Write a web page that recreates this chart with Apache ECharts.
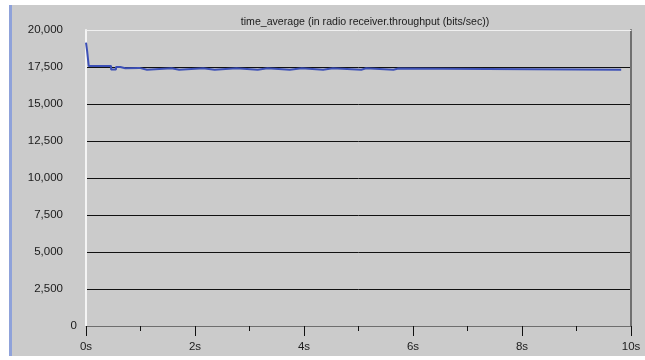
<!DOCTYPE html>
<html>
<head>
<meta charset="utf-8">
<script src="https://cdn.jsdelivr.net/npm/echarts@6/dist/echarts.min.js"></script>
<style>
  html, body { margin: 0; padding: 0; background: #ffffff; }
  #chart { width: 645px; height: 360px; }
</style>
</head>
<body>
<div id="chart"></div>
<script>
// Simulation time (s) at which each averaged value begins
const times = [0, 0.02, 0.05, 0.39, 0.46, 0.55, 0.63, 0.72, 0.98, 1.12, 1.57, 1.71,
  2.15, 2.36, 2.76, 3.15, 3.33, 3.74, 3.96, 4.35, 4.53, 5.05, 5.14, 5.64, 5.73, 9.82];
// Time-averaged throughput (bits/sec)
const throughput = [19150, 18600, 17570, 17560, 17330, 17500, 17420, 17440, 17320, 17420, 17320, 17420,
  17320, 17420, 17320, 17410, 17320, 17410, 17320, 17410, 17320, 17410, 17320, 17400, 17320, 17320];
const yTicks = [0, 2500, 5000, 7500, 10000, 12500, 15000, 17500, 20000];
const xTicks = [0, 2, 4, 6, 8, 10];
const titleText = 'time_average (in radio receiver.throughput (bits/sec))';

const font = 'Liberation Sans';
const chart = echarts.init(document.getElementById('chart'), null, { renderer: 'canvas' });

chart.setOption({
  animation: false,
  backgroundColor: '#ffffff',
  textStyle: { fontFamily: font },
  graphic: [
    { type: 'rect', z: -100, shape: { x: 12, y: 5, width: 633, height: 351 }, style: { fill: '#cbcbcb' } },
    { type: 'rect', z: -100, shape: { x: 9, y: 5, width: 3, height: 351 }, style: { fill: '#8fa2da' } }
  ],
  title: {
    text: titleText,
    left: 360, top: 12, textAlign: 'center',
    textStyle: { fontFamily: font, fontSize: 10.6, fontWeight: 'normal', color: '#1a1a1a' }
  },
  grid: { left: 86, right: 14, top: 30, bottom: 34 },
  xAxis: [{
    type: 'value', min: xTicks[0], max: xTicks[xTicks.length - 1], interval: 2,
    axisLine: { show: true, onZero: false, lineStyle: { color: '#6e6e6e', width: 1 } },
    axisTick: { show: true, length: 10, lineStyle: { color: '#111111', width: 1 } },
    minorTick: { show: true, splitNumber: 2, length: 5, lineStyle: { color: '#111111', width: 1 } },
    axisLabel: { margin: 15, fontSize: 11.5, color: '#1a1a1a', fontFamily: font, formatter: v => v + 's' },
    splitLine: { show: false }
  }, {
    type: 'value', position: 'top', min: 0, max: 10,
    axisLine: { show: true, onZero: false, lineStyle: { color: '#f0f0f0', width: 1 } },
    axisTick: { show: false }, axisLabel: { show: false }, splitLine: { show: false }
  }],
  yAxis: [{
    type: 'value', min: yTicks[0], max: yTicks[yTicks.length - 1], interval: 2500,
    axisLine: { show: true, onZero: false, lineStyle: { color: '#f4f4f4', width: 2 } },
    axisTick: { show: false },
    axisLabel: {
      margin: 9, fontSize: 11.5, color: '#1a1a1a', fontFamily: font,
      formatter: v => v === 0 ? '{z|0}' : '{n|' + v.toLocaleString('en-US') + '}',
      rich: {
        z: { fontSize: 11.5, fontFamily: font, color: '#1a1a1a' },
        n: { fontSize: 11.5, fontFamily: font, color: '#1a1a1a', padding: [0, 14, 0, 0] }
      }
    },
    splitLine: { show: true, showMinLine: false, showMaxLine: false, lineStyle: { color: '#111111', width: 1 } }
  }, {
    type: 'value', position: 'right', min: 0, max: 20000,
    axisLine: { show: true, onZero: false, lineStyle: { color: '#707070', width: 2 } },
    axisTick: { show: false }, axisLabel: { show: false }, splitLine: { show: false }
  }],
  series: [{
    type: 'line',
    step: 'end',
    xAxisIndex: 0, yAxisIndex: 0,
    data: times.map((t, i) => [t, throughput[i]]),
    showSymbol: false,
    lineStyle: { color: '#3d50b6', width: 2 },
    z: 5
  }]
});
</script>
</body>
</html>
